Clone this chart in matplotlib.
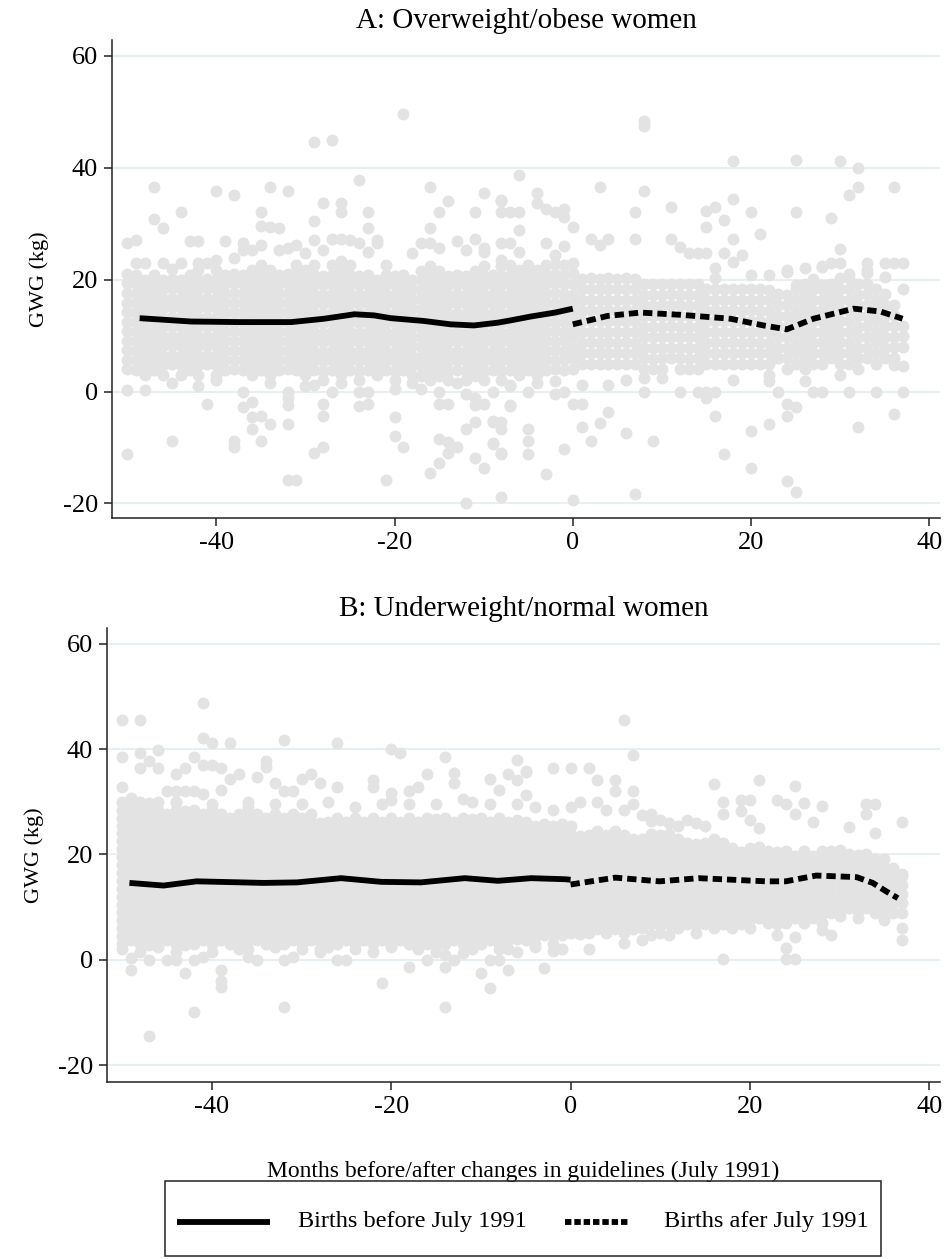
import numpy as np
import matplotlib.pyplot as plt
from matplotlib.lines import Line2D
from matplotlib.patches import Rectangle

plt.rcParams['font.family'] = ['Liberation Serif', 'DejaVu Serif']
plt.rcParams['axes.unicode_minus'] = False

months = list(range(-50, 38))

# ---- panel A: overweight/obese ----
# dense band of points per month (lower / upper edge, kg)
a_lo = [4, 3, 3, 3, 3, 4, 3, 3, 3, 4, 3, 3, 4, 3, 3, 3, 3, 3, 4, 3,
        3, 3, 2, 3, 3, 3, 2, 3, 3, 3, 2, 3, 3, 2, 2, 2, 2, 3, 2, 2,
        2, 3, 2, 3, 3, 3, 3, 3, 4, 3,
        4, 4, 5, 4, 5, 4, 5, 4, 4, 3, 4, 5, 4, 3, 4, 4, 5, 4, 5, 4,
        5, 4, 3, 5, 4, 4, 4, 4, 5, 5, 5, 4, 4, 5, 5, 5, 6, 7]
a_hi = [21, 22, 21, 22, 21, 22, 21, 22, 22, 21, 22, 21, 22, 22, 23, 23, 22, 22, 22, 23,
        22, 23, 22, 23, 24, 23, 22, 22, 21, 22, 22, 21, 21, 22, 23, 22, 22, 21, 22, 23,
        23, 22, 24, 24, 23, 24, 23, 24, 25, 24,
        23, 22, 22, 21, 22, 22, 21, 22, 21, 21, 21, 20, 21, 20, 21, 20, 21, 20, 19, 20,
        19, 20, 19, 18, 19, 19, 20, 21, 20, 21, 21, 20, 21, 20, 19, 18, 17, 12]
# scattered points outside the band (month, kg)
a_out = [(-19, 49.5), (-29, 44.6), (-27, 45), (-24, 37.8), (-47, 36.5), (-40, 35.8), (-38, 35.1),
         (-34, 36.5), (-32, 35.8), (-16, 36.5), (-14, 34.1), (-10, 35.4), (-8, 34.1), (-44, 32),
         (-47, 30.9), (-46, 29.2), (-35, 32), (-35, 29.5), (-34, 29.4), (-33, 29.3), (-28, 33.6),
         (-26, 33.6), (-26, 32), (-29, 30.5), (-23, 32), (-23, 29.3), (-15, 32), (-16, 29.3),
         (-11, 32), (-8, 32), (-7, 32), (-11, 27.2), (-13, 26.8), (-8, 26.6), (-50, 26.6),
         (-49, 27), (-43, 26.8), (-42, 26.8), (-39, 26.8), (-37, 26.6), (-31, 26.2), (-29, 27),
         (-27, 27.2), (-26, 27.2), (-24, 26.6), (-22, 26.6), (-10, 25.7), (-35, 26.2), (-7, 26.6),
         (-49, 22.9), (-48, 22.9), (-46, 22.9), (-44, 22.9), (-42, 22.9), (-41, 22.9), (-40, 23.5),
         (-38, 23.8), (-37, 25.3), (-36, 25.3), (-33, 25.3), (-32, 25.6), (-30, 24.7), (-28, 25.3),
         (-25, 27), (-23, 25), (-22, 27), (-21, 22.6), (-18, 24.7), (-17, 26.5), (-16, 26.5),
         (-15, 25.6), (-12, 25.3), (-10, 25), (-8, 23.5), (-6, 25),
         (8, 48.3), (8, 47.5), (18, 41.1), (25, 41.4), (30, 41.1), (32, 40), (-6, 38.7), (3, 36.5),
         (8, 35.9), (32, 36.5), (31, 35.1), (36, 36.5), (-8, 34.2), (-4, 35.4), (-4, 33.6),
         (-3, 32.6), (-2, 32), (-1, 32.6), (-1, 31.2), (0, 29.4), (-6, 32), (-6, 28.9), (7, 32),
         (11, 33), (11, 27.3), (15, 32.2), (16, 33), (17, 30.7), (15, 29.4), (18, 34.4), (20, 32),
         (21, 28.2), (25, 32), (29, 31), (30, 25.5), (18, 27.3), (12, 25.9), (13, 24.8), (14, 24.8),
         (15, 24.8), (4, 27.3), (7, 27.3), (2, 27.3), (3, 26.2), (17, 24.8), (19, 24.3), (18, 23.2),
         (24, 21.7), (26, 22), (33, 23), (33, 21.7), (35, 23), (36, 23), (37, 23), (28, 22.5),
         (29, 23), (30, 23), (31, 21), (20, 20.8), (22, 20.8), (16, 22), (28, 22.3), (24, 21.4),
         (25, 19), (28, 19), (31, 20.2), (33, 21.1), (35, 20.5), (37, 18.4), (-3, 26.5), (-1, 26),
         (-50, 0.2), (-48, 0.2), (-50, -11.2), (-45, -8.9), (-41, -2.2), (-38, -8.9), (-38, -9.9),
         (-37, 0), (-37, -2.8), (-36, -1.9), (-36, -4.5), (-35, -4.3), (-34, -5.8), (-36, -6.7),
         (-35, -8.9), (-32, 0), (-32, -1.2), (-32, -2.4), (-32, -5.8), (-32, -15.8), (-31, -15.8),
         (-29, 1.1), (-28, -4.3), (-28, -2.2), (-29, -10.9), (-28, -10), (-27, 0), (-24, -2.6),
         (-23, -2.2), (-23, 0), (-24, 0), (-20, -4.5), (-20, -7.9), (-19, -10), (-21, -15.8),
         (-15, 0), (-15, -2.2), (-14, -2.2), (-15, -8.5), (-14, -9.1), (-13, -10), (-14, -10.9),
         (-15, -12.7), (-16, -14.5), (-12, -0.4), (-11, -1.2), (-11, -2.4), (-12, -6.7),
         (-11, -5.5), (-11, -11.8), (-10, -13.6), (-12, -20), (-9, 0), (-9, -5.5), (-8, -5.5),
         (-8, -6.7), (-9, -9.2), (-8, -10.9), (-8, -18.9), (-7, 1.1), (-7, -2.6),
         (-10, -2.2), (-9, -5.2), (-9, -9.4), (-8, -11.2), (-7, -2.5), (-5, -6.7), (-5, -8.8),
         (-5, -11.2), (-3, -14.8), (-1, -10.3), (0, -19.4), (-5, 0), (-7, 1), (-2, 1.9),
         (-2, -0.4), (-1, 0), (0, -2.2), (1, -2.2), (1, -6.4), (2, -8.8), (3, -5.7), (4, -3.7),
         (1, 1.1), (4, 1.1), (6, -7.5), (7, -18.3), (9, -8.9), (8, 2.5), (8, 0), (12, 0), (14, 0),
         (15, 0), (16, 0), (15, -1.2), (16, -4.3), (17, -11.2), (20, -7), (20, -13.6), (22, -5.8),
         (24, -4.3), (24, -2.2), (25, -2.8), (24, -16), (25, -18), (22, 1.9), (23, 0), (26, 1.9),
         (27, 0), (28, 0), (31, 0), (34, 0), (37, 0), (32, -6.4), (36, -4), (36, 4.7), (37, 4.5),
         (-45, 1.5), (-42, 1), (-40, 2), (-34, 1.5), (-30, 1), (-26, 1.5), (-20, 0.5), (-18, 1.5),
         (-17, 0.5), (-13, 1.5), (-4, 1.5), (6, 2), (10, 2.5), (18, 2), (30, 3)]
# smoothed curves (month, kg)
a_before_x = [-48.6, -42.8, -37.2, -31.6, -27.9, -24.5, -22.3, -20.4, -16.7, -13.7, -11.1, -8.4, -7.0, -4.7, -2.0, 0.0]
a_before_y = [13.1, 12.5, 12.4, 12.4, 13.0, 13.8, 13.6, 13.1, 12.6, 12.0, 11.8, 12.3, 12.7, 13.4, 14.1, 14.8]
a_after_x = [0.0, 3.9, 7.6, 12.1, 17.7, 21.4, 24.0, 27.0, 31.5, 34.5, 37.0]
a_after_y = [12.0, 13.5, 14.1, 13.7, 13.0, 11.8, 11.1, 13.0, 14.8, 14.3, 13.0]

# ---- panel B: underweight/normal ----
b_lo = [3, 3, 3, 2, 3, 3, 3, 2, 3, 3, 3, 3, 3, 3, 2, 3, 3, 3, 3, 3,
        3, 3, 2, 3, 3, 3, 3, 3, 3, 3, 3, 3, 3, 3, 3, 2, 3, 3, 3, 2,
        3, 3, 3, 3, 4, 3, 3, 4, 3, 4,
        5, 4, 5, 5, 5, 5, 5, 5, 6, 6, 5, 6, 6, 6, 5, 6, 6, 6, 6, 6,
        6, 7, 7, 6, 7, 7, 7, 7, 7, 8, 9, 9, 8, 9, 9, 8, 9, 10]
b_hi = [31, 31, 30, 30, 30, 29, 30, 29, 29, 29, 29, 28, 28, 28, 29, 28, 28, 28, 28, 28,
        28, 28, 27, 27, 28, 27, 27, 27, 27, 27, 27, 27, 27, 27, 27, 27, 27, 27, 27, 27,
        27, 27, 27, 27, 27, 27, 26, 26, 26, 26,
        26, 25, 25, 25, 25, 25, 25, 24, 24, 24, 24, 24, 23, 23, 23, 23, 23, 23, 22, 22,
        22, 22, 21, 21, 21, 21, 21, 21, 21, 21, 21, 21, 21, 21, 20, 20, 18, 16]
b_out = [(-41, 48.8), (-50, 45.6), (-48, 45.6), (-41, 42.1), (-40, 41.2), (-38, 41.2), (-32, 41.7),
         (-26, 41.2), (-20, 40), (-19, 39.3), (-14, 38.5), (-6, 37.9), (-50, 38.6), (-48, 39.3),
         (-46, 39.8), (-48, 36.4), (-46, 36.4), (-47, 37.7), (-42, 38.6), (-41, 37), (-40, 37),
         (-39, 36.4), (-43, 36.4), (-44, 35.2), (-50, 32.8), (-38, 34.3), (-37, 35.2), (-35, 34.7),
         (-34, 37.7), (-34, 36.7), (-33, 33.6), (-32, 32), (-31, 32), (-30, 34.3), (-29, 35.2),
         (-28, 33.6), (-26, 32.8), (-22, 34.1), (-22, 32.9), (-20, 31.7), (-20, 30.4), (-18, 32),
         (-17, 32.8), (-16, 35.2), (-13, 35.5), (-13, 33.5), (-12, 30.5), (-9, 34.3), (-8, 32.3),
         (-7, 35.2), (-5, 35.8), (-5, 31.3), (-45, 32), (-44, 32), (-43, 32), (-42, 32),
         (-41, 31.5), (-39, 32.3), (6, 45.6), (7, 38.8), (-5, 35.6), (-6, 34.2), (-2, 36.4),
         (0, 36.4), (2, 36.4), (3, 34.2), (5, 34.1), (5, 32), (7, 32), (16, 33.4), (21, 34.2),
         (25, 33), (17, 29.9), (17, 27.6), (19, 30.4), (20, 30.4), (19, 28.2), (20, 26.6),
         (21, 25), (23, 30.4), (24, 29.5), (26, 29.8), (25, 27.6), (28, 29.2), (27, 26.1),
         (33, 29.5), (34, 29.5), (33, 27.6), (34, 24), (31, 25.2), (37, 26.1), (9, 27.6),
         (9, 26.3), (13, 26.6), (15, 25.5), (-49, 30), (-47, 29.5), (-44, 30), (-40, 29.5),
         (-36, 30), (-33, 29.5), (-30, 29.5), (-27, 30), (-24, 29), (-21, 29.5), (-18, 29.5),
         (-15, 29.5), (-11, 30), (-9, 29.5), (-6, 29.5), (-4, 29), (-2, 28.5), (0, 29), (1, 30),
         (3, 30), (4, 28.5), (6, 28.5), (7, 29.5), (8, 27.5), (10, 26.5), (11, 26), (12, 25.5),
         (14, 26), (-47, -14.4), (-42, -10), (-32, -8.9), (-14, -8.9), (-21, -4.4), (-9, -5.4),
         (-49, 0.3), (-49, -2), (-47, 0), (-43, -2.5), (-39, -2), (-39, -4.1), (-39, -5.1),
         (-45, 0), (-44, 0), (-42, 0), (-41, 0.5), (-35, 0), (-32, 0), (-31, 0.6), (-26, 0),
         (-25, 0), (-18, -1.3), (-16, 0), (-14, -1.3), (-13, 0), (-12, 1.3), (-10, -2.5), (-9, 0),
         (-8, 0), (-7, -2), (-14, 1), (-8, 2), (-7, 2), (-3, -1.6), (-2, 1.6), (17, 0.1),
         (24, 0.1), (25, 0.1), (24, 2.2), (2, 2), (6, 3.2), (8, 3.8), (9, 4.8), (11, 4.8), (13, 7),
         (23, 4.8), (25, 4.4), (29, 4.8), (28, 5.7), (30, 8.4), (32, 9.2), (35, 7.5), (37, 6),
         (37, 3.8), (37, 8.9), (36, 8.9), (34, 8.9), (34, 16.2), (36, 15.5), (37, 16.2),
         (-50, 2), (-48, 1.5), (-46, 2.5), (-44, 1.5), (-40, 1.5), (-37, 2), (-36, 0.5),
         (-33, 2.5), (-30, 2), (-28, 1.5), (-27, 2.5), (-24, 2), (-22, 1.5), (-20, 2.5), (-17, 2),
         (-15, 1.5), (-11, 2), (-6, 1.5), (-4, 2.5), (-1, 2)]
b_before_x = [-49.2, -45.4, -41.7, -34.2, -30.5, -25.6, -21.1, -16.7, -11.8, -8.1, -4.4, -0.6, 0.0]
b_before_y = [14.6, 14.1, 14.9, 14.6, 14.7, 15.5, 14.8, 14.7, 15.5, 15.0, 15.5, 15.3, 15.2]
b_after_x = [0.0, 5.0, 9.9, 14.3, 21.8, 24.0, 27.4, 31.9, 33.7, 35.2, 36.5]
b_after_y = [14.3, 15.6, 14.9, 15.5, 14.9, 14.9, 16.0, 15.7, 14.6, 13.0, 11.7]

legend_labels = ['Births before July 1991', 'Births afer July 1991']

PT_COLOR = '#e3e3e3'
GRID = '#e4eef1'
FS = 19
W, H = 950, 1259


def draw_panel(ax, lo, hi, out, bx, by, ax_, ay, title, ylim, steps):
    xs, ys = [], []
    for i, m in enumerate(months):
        step = steps[0] if m < 0 else steps[1]
        off = 0.5 * step if i % 2 else 0.0
        for v in np.arange(lo[i] + off, hi[i] + 0.01, step):
            xs.append(m)
            ys.append(v)
    ox, oy = zip(*out)
    xs += list(ox)
    ys += list(oy)
    ax.plot(xs, ys, 'o', ms=8.6, color=PT_COLOR, mec='none', zorder=2)
    ax.plot(bx, by, color='black', lw=4.2, solid_capstyle='butt', zorder=3)
    ax.plot(ax_, ay, color='black', lw=4.2, dashes=(1.6, 0.85), dash_capstyle='butt', zorder=3)
    ax.set_xlim(-51.7, 41.2)
    ax.set_ylim(*ylim)
    ax.set_xticks([-40, -20, 0, 20, 40])
    ax.set_yticks([-20, 0, 20, 40, 60])
    ax.yaxis.grid(True, color=GRID, lw=1.3, zorder=0)
    ax.set_axisbelow(True)
    for s in ['top', 'right']:
        ax.spines[s].set_visible(False)
    for s in ['left', 'bottom']:
        ax.spines[s].set_linewidth(1.1)
        ax.spines[s].set_color('#222222')
    ax.tick_params(length=6, width=1.1, labelsize=FS, pad=4, color='#222222')
    ax.set_ylabel('GWG (kg)', fontsize=16, labelpad=10)
    ax.set_title(title, fontsize=21, pad=9)


fig = plt.figure(figsize=(W / 100, H / 100), dpi=100)
axA = fig.add_axes([112 / W, 1 - 518 / H, 828 / W, 478 / H])
axB = fig.add_axes([107 / W, 1 - 1082 / H, 833 / W, 454 / H])

draw_panel(axA, a_lo, a_hi, a_out, a_before_x, a_before_y, a_after_x, a_after_y,
           'A: Overweight/obese women', (-22.6, 62.8), (1.7, 1.9))
draw_panel(axB, b_lo, b_hi, b_out, b_before_x, b_before_y, b_after_x, b_after_y,
           'B: Underweight/normal women', (-23.2, 63.0), (1.5, 1.7))
axB.set_xlabel('Months before/after changes in guidelines (July 1991)', fontsize=17, labelpad=31)

# legend drawn by hand (keys of different length, as in the original)
tf = fig.transFigure
fig.add_artist(Rectangle((165 / W, 1 - 1256 / H), (881 - 165) / W, (1256 - 1181) / H,
                         fill=False, lw=1.1, ec='#222222', transform=tf))
row = 1 - 1222 / H
fig.add_artist(Line2D([177 / W, 270 / W], [row, row], color='black', lw=4.2,
                      solid_capstyle='butt', transform=tf))
fig.add_artist(Line2D([565 / W, 628 / W], [row, row], color='black', lw=4.2,
                      dashes=(1.1, 0.5), dash_capstyle='butt', transform=tf))
fig.text(298 / W, row, legend_labels[0], fontsize=17.5, va='center', ha='left')
fig.text(664 / W, row, legend_labels[1], fontsize=17.5, va='center', ha='left')

fig.savefig('out.png', dpi=100)
